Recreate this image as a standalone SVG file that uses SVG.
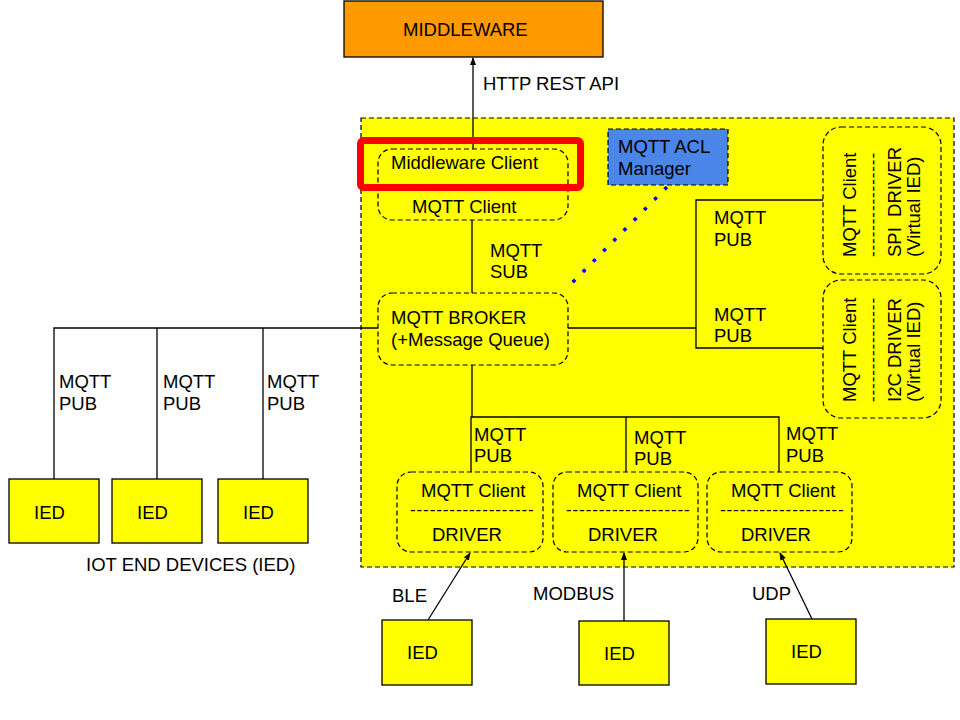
<svg xmlns="http://www.w3.org/2000/svg" width="960" height="720" viewBox="0 0 960 720">
<style>
text{font-family:"Liberation Sans",Arial,sans-serif;font-size:18.5px;fill:#000}
.ln{stroke:#000;stroke-width:1.3;fill:none}
.ied{fill:#ffff00;stroke:#000;stroke-width:1.3}
.yb{fill:#ffff00;stroke:#000;stroke-width:1.2;stroke-dasharray:5 3}
.hy{font-size:17px;letter-spacing:0.9px}
</style>
<defs>
<marker id="ah" markerUnits="userSpaceOnUse" markerWidth="8" markerHeight="6" refX="7" refY="3" orient="auto">
<path d="M0,0 L8,3 L0,6 z" fill="#000"/>
</marker>
</defs>
<rect width="960" height="720" fill="#fff"/>
<g id="container">
<rect x="361" y="118" width="593" height="449" class="yb"/>
</g>
<g id="middleware">
<rect x="344" y="1" width="259" height="56" fill="#ff9900" stroke="#000" stroke-width="1.3"/>
<text x="403" y="36">MIDDLEWARE</text>
</g>
<g id="connectors">
<line x1="473" y1="149" x2="473" y2="58" class="ln" marker-end="url(#ah)"/>
<line x1="472" y1="220" x2="472" y2="293" class="ln"/>
<line x1="667" y1="187" x2="566" y2="289" stroke="#0000ff" stroke-width="3.5" stroke-dasharray="3.5 11"/>
<polyline points="378,328 54,328 54,479" class="ln"/>
<line x1="157" y1="328" x2="157" y2="479" class="ln"/>
<line x1="263" y1="328" x2="263" y2="479" class="ln"/>
<line x1="568" y1="328" x2="696" y2="328" class="ln"/>
<polyline points="823,200 696,200 696,348 823,348" class="ln"/>
<line x1="472" y1="365" x2="472" y2="417" class="ln"/>
<polyline points="471,472 471,417 779,417 779,472" class="ln"/>
<line x1="626" y1="417" x2="626" y2="472" class="ln"/>
<line x1="428" y1="620" x2="470" y2="553" class="ln" marker-end="url(#ah)"/>
<line x1="624" y1="621" x2="624" y2="553" class="ln" marker-end="url(#ah)"/>
<line x1="812" y1="619" x2="780" y2="553" class="ln" marker-end="url(#ah)"/>
<text x="483" y="90">HTTP REST API</text>
<text x="490" y="257">MQTT</text><text x="490" y="278">SUB</text>
<text x="59" y="388">MQTT</text><text x="59" y="410">PUB</text>
<text x="163" y="388">MQTT</text><text x="163" y="410">PUB</text>
<text x="267" y="388">MQTT</text><text x="267" y="410">PUB</text>
<text x="714" y="224">MQTT</text><text x="714" y="246">PUB</text>
<text x="714" y="321">MQTT</text><text x="714" y="342">PUB</text>
<text x="474" y="441">MQTT</text><text x="474" y="462">PUB</text>
<text x="634" y="444">MQTT</text><text x="634" y="465">PUB</text>
<text x="786" y="440">MQTT</text><text x="786" y="462">PUB</text>
<text x="392" y="602">BLE</text>
<text x="533" y="600">MODBUS</text>
<text x="752" y="600">UDP</text>
</g>
<g id="middleware-client">
<rect x="378" y="149" width="190" height="71" rx="14" class="yb"/>
<text x="391" y="169">Middleware Client</text>
<text x="412" y="213">MQTT Client</text>
</g>
<g id="highlight">
<rect x="360.5" y="140.5" width="220" height="47" rx="3" fill="none" stroke="#ff0000" stroke-width="7"/>
</g>
<g id="acl">
<rect x="608" y="129" width="120" height="56" fill="#4a86e8" stroke="#000" stroke-width="1.2" stroke-dasharray="5 3"/>
<text x="618" y="153">MQTT ACL</text>
<text x="618" y="175">Manager</text>
</g>
<g id="broker">
<rect x="378" y="293" width="190" height="72" rx="14" class="yb"/>
<text x="391" y="324">MQTT BROKER</text>
<text x="391" y="346">(+Message Queue)</text>
</g>
<g id="spi">
<rect x="823" y="127" width="118" height="147" rx="18" class="yb"/>
<g transform="translate(856,257) rotate(-90)">
<text x="0" y="0">MQTT Client</text>
<text x="0" y="22" class="hy">----------------</text>
<text x="0" y="44.5" xml:space="preserve">SPI  DRIVER</text>
<text x="0" y="64">(Virtual IED)</text>
</g>
</g>
<g id="i2c">
<rect x="823" y="280" width="118" height="138" rx="18" class="yb"/>
<g transform="translate(856,402) rotate(-90)">
<text x="0" y="0">MQTT Client</text>
<text x="0" y="22" class="hy">----------------</text>
<text x="0" y="44.5">I2C DRIVER</text>
<text x="0" y="64">(Virtual IED)</text>
</g>
</g>
<g id="driver1">
<rect x="397" y="472" width="146" height="80" rx="14" class="yb"/>
<text x="421" y="497">MQTT Client</text>
<text x="410" y="515" class="hy">-------------------</text>
<text x="432" y="541">DRIVER</text>
</g>
<g id="driver2">
<rect x="553" y="472" width="145" height="80" rx="14" class="yb"/>
<text x="577" y="497">MQTT Client</text>
<text x="566" y="515" class="hy">-------------------</text>
<text x="588" y="541">DRIVER</text>
</g>
<g id="driver3">
<rect x="707" y="472" width="145" height="80" rx="14" class="yb"/>
<text x="731" y="497">MQTT Client</text>
<text x="720" y="515" class="hy">-------------------</text>
<text x="741" y="541">DRIVER</text>
</g>
<g id="ied1"><rect x="9" y="479" width="90" height="64" class="ied"/><text x="34" y="519">IED</text></g>
<g id="ied2"><rect x="112" y="479" width="90" height="64" class="ied"/><text x="137" y="519">IED</text></g>
<g id="ied3"><rect x="218" y="479" width="90" height="64" class="ied"/><text x="243" y="519">IED</text></g>
<g id="ied-caption"><text x="86" y="571">IOT END DEVICES (IED)</text></g>
<g id="ied4"><rect x="382" y="620" width="90" height="65" class="ied"/><text x="407" y="659">IED</text></g>
<g id="ied5"><rect x="579" y="621" width="90" height="64" class="ied"/><text x="604" y="660">IED</text></g>
<g id="ied6"><rect x="766" y="619" width="90" height="65" class="ied"/><text x="791" y="658">IED</text></g>
</svg>
